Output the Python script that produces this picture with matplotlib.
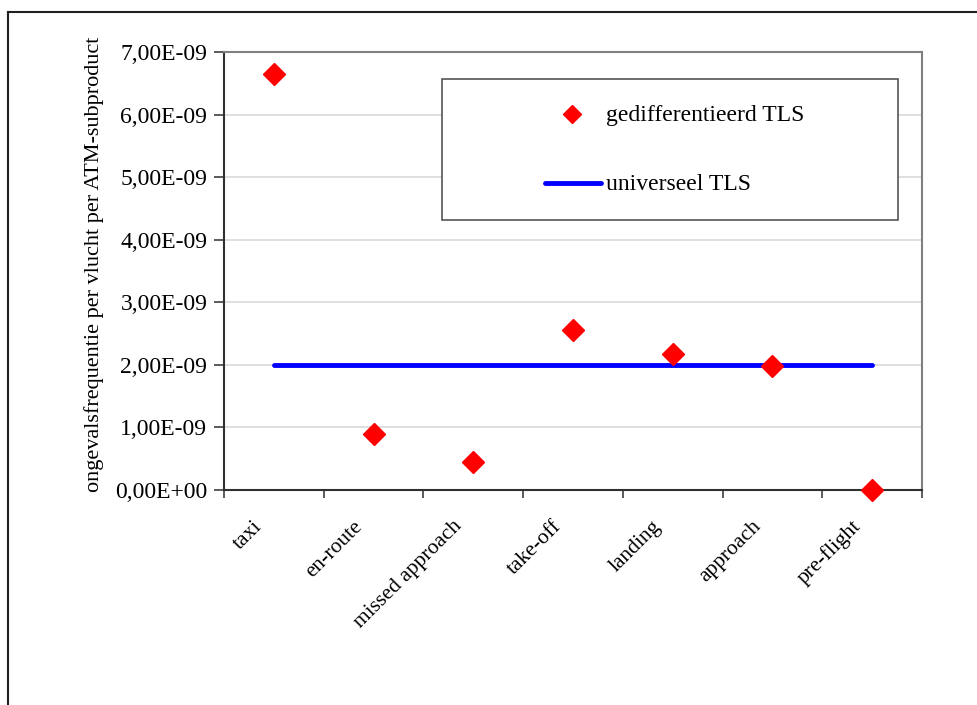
import matplotlib
matplotlib.use("Agg")
import matplotlib.pyplot as plt
from matplotlib.lines import Line2D

categories = ["taxi", "en-route", "missed approach", "take-off", "landing", "approach", "pre-flight"]
gedifferentieerd = [6.65e-9, 0.89e-9, 0.44e-9, 2.56e-9, 2.18e-9, 1.98e-9, 0.0]
universeel = [2.0e-9] * 7
yticks = [i * 1e-9 for i in range(8)]
ytick_labels = ["0,00E+00", "1,00E-09", "2,00E-09", "3,00E-09", "4,00E-09", "5,00E-09", "6,00E-09", "7,00E-09"]

plt.rcParams['font.family'] = ['Liberation Serif', 'DejaVu Serif']

W, H = 977, 705
fig = plt.figure(figsize=(W / 100, H / 100), dpi=100)
ax = fig.add_axes([224 / W, 1 - 490 / H, (922 - 224) / W, (490 - 52) / H])

x = list(range(len(categories)))
ax.set_xlim(-0.5, len(categories) - 0.5)
ax.set_ylim(0, 7e-9)
ax.set_yticks(yticks)
ax.set_yticklabels(ytick_labels, fontsize=17)
ax.yaxis.grid(True, color='#d9d9d9', linewidth=1.2)
ax.set_axisbelow(True)

ax.plot(x, universeel, color='#0000ff', linewidth=3.5, solid_capstyle='round', zorder=3, clip_on=False)
ax.plot(x, gedifferentieerd, linestyle='none', marker='D', markersize=11, color='#ff0000',
        markeredgecolor='#ff0000', zorder=4, clip_on=False)

# category ticks at boundaries
ax.set_xticks([i + 0.5 for i in range(-1, len(categories))])
ax.set_xticklabels([])
ax.tick_params(axis='x', length=6, width=1.2, color='#404040')
ax.tick_params(axis='y', length=7, width=1.2, color='#404040', pad=5)
for xi, lab in zip(x, categories):
    ax.text(xi - 0.21, -0.43e-9, lab, rotation=45, ha='right', va='top', fontsize=15.5,
            rotation_mode='anchor', transform=ax.transData)

for s in ['top', 'right']:
    ax.spines[s].set_color('#808080')
    ax.spines[s].set_linewidth(1.5)
for s in ['left', 'bottom']:
    ax.spines[s].set_color('#303030')
    ax.spines[s].set_linewidth(1.5)

ax.set_ylabel("ongevalsfrequentie per vlucht per ATM-subproduct", fontsize=16)
ax.yaxis.set_label_coords((104 - 224) / (922 - 224), (490 - 264) / (490 - 52))

# legend box (manual)
lx0, ly0, lx1, ly1 = 442, 79, 898, 220
fig.patches.append(plt.Rectangle((lx0 / W, 1 - ly1 / H), (lx1 - lx0) / W, (ly1 - ly0) / H,
                                 transform=fig.transFigure, facecolor='white',
                                 edgecolor='#555555', linewidth=1.2, zorder=5))
fig.lines.append(Line2D([572 / W], [1 - 114 / H], marker='D', markersize=9, color='#ff0000',
                        linestyle='none', transform=fig.transFigure, zorder=6))
fig.text(606 / W, 1 - 116 / H, "gedifferentieerd TLS", fontsize=17, va='center', ha='left', zorder=6)
fig.lines.append(Line2D([545 / W, 601 / W], [1 - 183 / H, 1 - 183 / H], color='#0000ff', linewidth=3.5,
                        solid_capstyle='round', transform=fig.transFigure, zorder=6))
fig.text(606 / W, 1 - 185 / H, "universeel TLS", fontsize=17, va='center', ha='left', zorder=6)

# outer frame (top and left only)
fig.lines.append(Line2D([8 / W, 1.0], [1 - 12 / H, 1 - 12 / H], color='#202020', linewidth=1.5,
                        transform=fig.transFigure))
fig.lines.append(Line2D([8 / W, 8 / W], [0, 1 - 12 / H], color='#202020', linewidth=1.5,
                        transform=fig.transFigure))

fig.savefig("out.png", dpi=100, facecolor='white')
